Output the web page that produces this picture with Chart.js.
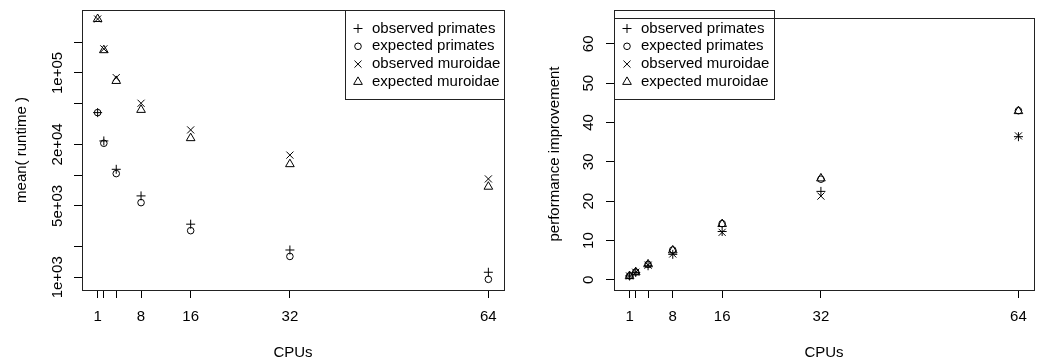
<!DOCTYPE html>
<html>
<head>
<meta charset="utf-8">
<script src="https://cdn.jsdelivr.net/npm/chart.js@4.4.1/dist/chart.umd.min.js"></script>
<style>
  html, body { margin: 0; padding: 0; background: #fff; }
  #wrap { position: relative; width: 1040px; height: 364px; }
  .panel { position: absolute; top: 0; width: 520px; height: 364px; }
</style>
</head>
<body>
<div id="wrap">
  <div class="panel" style="left:0"><canvas id="runtime" width="520" height="364"></canvas></div>
  <div class="panel" style="left:520px"><canvas id="speedup" width="520" height="364"></canvas></div>
</div>
<script>
// cpu counts (x axis of both plots)
const cpus = [1, 2, 4, 8, 16, 32, 64];
const cpuTickLabels = ['1', '', '', '8', '16', '32', '64'];

// left plot: mean runtime, log axis
const runtimeObsPrimates = [40900, 21600, 11400, 6260, 3310, 1850, 1120];
const runtimeExpPrimates = [40900, 20500, 10350, 5380, 2860, 1600, 955];
const runtimeObsMuroidae = [337000, 172000, 90000, 50500, 27700, 15700, 9180];
const runtimeExpMuroidae = [337000, 167000, 83500, 43500, 23000, 12800, 7700];
const runtimeTicks = [1000, 2000, 5000, 10000, 20000, 50000, 100000, 200000];
const runtimeTickLabels = ['1e+03', '', '5e+03', '', '2e+04', '', '1e+05', ''];

// right plot: performance improvement
const speedupObsPrimates = [1, 1.9, 3.6, 6.5, 12.3, 22.5, 36.4];
const speedupExpPrimates = [1, 2.0, 3.95, 7.6, 14.3, 25.6, 43.0];
const speedupObsMuroidae = [1, 1.95, 3.75, 6.6, 12.1, 21.3, 36.6];
const speedupExpMuroidae = [1, 1.98, 3.95, 7.5, 14.2, 25.8, 42.9];
const speedupTicks = [0, 10, 20, 30, 40, 50, 60];

const seriesNames = ['observed primates', 'expected primates', 'observed muroidae', 'expected muroidae'];
const seriesSymbols = ['cross', 'circle', 'crossRot', 'triangle'];

// symbol sizes (R pch 3, 1, 4, 2)
const symbolRadius = { cross: 4.5, circle: 3.3, crossRot: 5, triangle: 5 };
const font = { family: "'Liberation Sans', Arial, Helvetica, sans-serif", size: 15 };

function makeDatasets(series) {
  return series.map((vals, i) => ({
    label: seriesNames[i],
    data: cpus.map((c, j) => ({ x: c, y: vals[j] })),
    pointStyle: seriesSymbols[i],
    pointRadius: symbolRadius[seriesSymbols[i]],
    pointBorderWidth: 1,
    borderColor: '#000',
    backgroundColor: 'rgba(0,0,0,0)',
    showLine: false
  }));
}

// frame round the plot + R style legend inside
const boxPlugin = {
  id: 'box',
  afterDraw(chart, args, opts) {
    const ctx = chart.ctx;
    const a = chart.chartArea;
    ctx.save();
    ctx.strokeStyle = '#222';
    ctx.lineWidth = 1;
    ctx.strokeRect(Math.round(a.left) + 0.5, Math.round(a.top) + 0.5,
      Math.round(a.right - a.left), Math.round(a.bottom - a.top));

    const lg = opts.legend;
    ctx.strokeRect(lg.left + 0.5, lg.top + 0.5, lg.right - lg.left, lg.bottom - lg.top);
    ctx.fillStyle = '#000';
    ctx.font = font.size + 'px ' + font.family;
    ctx.textBaseline = 'middle';
    ctx.textAlign = 'left';
    chart.data.datasets.forEach((ds, i) => {
      const y = lg.firstRow + i * lg.rowStep;
      ctx.fillText(ds.label, lg.textX, y);
      ctx.save();
      ctx.fillStyle = 'rgba(0,0,0,0)';
      ctx.strokeStyle = '#000';
      ctx.lineWidth = 1;
      Chart.helpers.drawPoint(ctx, { pointStyle: ds.pointStyle, radius: ds.pointRadius, rotation: 0, borderWidth: 1 }, lg.symbolX, y);
      ctx.restore();
    });
    ctx.restore();
  }
};

function xScale() {
  return {
    type: 'linear',
    min: -1.52,
    max: 66.52,
    afterBuildTicks: s => { s.ticks = cpus.map(v => ({ value: v })); },
    afterFit: s => { s.height = 74; },
    ticks: { autoSkip: false, maxRotation: 0, color: '#000', font: font, padding: 10,
      callback: (v, i) => cpuTickLabels[i] },
    grid: { drawOnChartArea: false, drawTicks: true, tickLength: 8, color: '#000' },
    border: { display: false },
    title: { display: true, text: 'CPUs', color: '#000', font: font, padding: { top: 0, bottom: 2 } }
  };
}

new Chart(document.getElementById('runtime'), {
  type: 'scatter',
  data: { datasets: makeDatasets([runtimeObsPrimates, runtimeExpPrimates, runtimeObsMuroidae, runtimeExpMuroidae]) },
  options: {
    responsive: false,
    animation: false,
    devicePixelRatio: 1,
    layout: { padding: { left: 0, right: 16, top: 10, bottom: 0 } },
    scales: {
      x: xScale(),
      y: {
        type: 'logarithmic',
        min: 751,
        max: 413000,
        afterBuildTicks: s => { s.ticks = runtimeTicks.map(v => ({ value: v })); },
        afterFit: s => { s.width = 82; },
        ticks: { autoSkip: false, minRotation: 90, maxRotation: 90, crossAlign: 'center', padding: -5,
          color: '#000', font: font, callback: (v, i) => runtimeTickLabels[i] },
        grid: { drawOnChartArea: false, drawTicks: true, tickLength: 8, color: '#000' },
        border: { display: false },
        title: { display: true, text: 'mean( runtime )', color: '#000', font: font, padding: { top: 13, bottom: 0 } }
      }
    },
    plugins: {
      legend: { display: false },
      tooltip: { enabled: false },
      box: { legend: { left: 345, right: 504, top: 10, bottom: 99, symbolX: 358, textX: 372, firstRow: 28.5, rowStep: 17.8 } }
    }
  },
  plugins: [boxPlugin]
});

new Chart(document.getElementById('speedup'), {
  type: 'scatter',
  data: { datasets: makeDatasets([speedupObsPrimates, speedupExpPrimates, speedupObsMuroidae, speedupExpMuroidae]) },
  options: {
    responsive: false,
    animation: false,
    devicePixelRatio: 1,
    layout: { padding: { left: 0, right: 4, top: 10, bottom: 0 } },
    scales: {
      x: xScale(),
      y: {
        type: 'linear',
        min: -2.56,
        max: 66.56,
        afterBuildTicks: s => { s.ticks = speedupTicks.map(v => ({ value: v })); },
        afterFit: s => { s.width = 94; },
        ticks: { autoSkip: false, minRotation: 90, maxRotation: 90, crossAlign: 'center', padding: 9,
          color: '#000', font: font, callback: v => String(v) },
        grid: { drawOnChartArea: false, drawTicks: true, tickLength: 8, color: '#000' },
        border: { display: false },
        title: { display: true, text: 'performance improvement', color: '#000', font: font, padding: { top: 26, bottom: 0 } }
      }
    },
    plugins: {
      legend: { display: false },
      tooltip: { enabled: false },
      box: { legend: { left: 94, right: 254, top: 10, bottom: 99, symbolX: 107, textX: 121, firstRow: 28.5, rowStep: 17.8 } }
    }
  },
  plugins: [boxPlugin]
});
</script>
</body>
</html>
